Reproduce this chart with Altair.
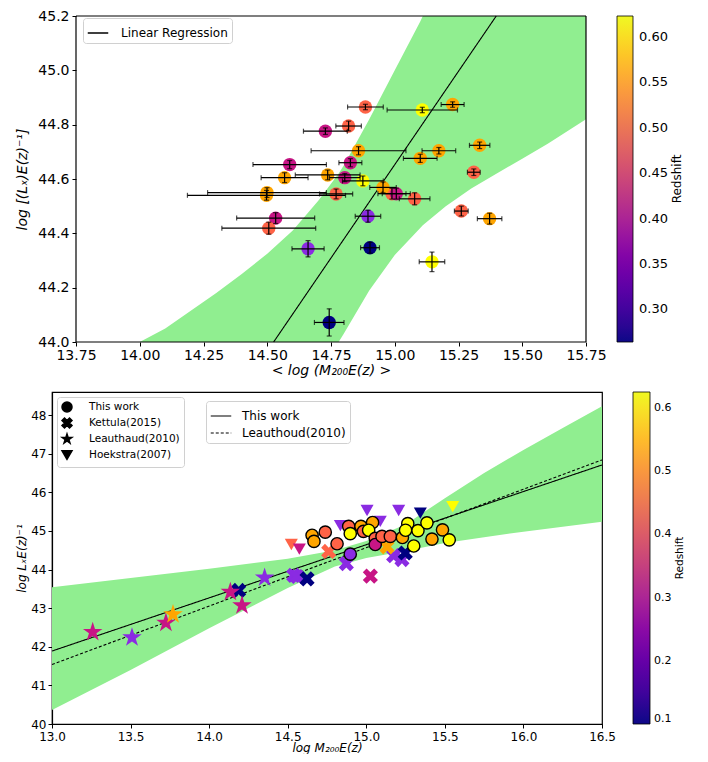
import altair as alt
import pandas as pd

# ================= TOP PANEL DATA =================
top_logm = [14.885, 14.728, 14.819, 14.858, 14.588, 14.826, 14.568, 14.737, 14.804, 14.875,
            14.499, 14.497, 14.770, 14.533, 14.506, 14.660, 14.743, 14.895, 14.903, 15.146,
            15.261, 15.372, 15.078, 14.989, 15.006, 14.954, 15.108, 15.227, 15.333, 15.310,
            15.173, 15.100]
top_loglx = [44.865, 44.776, 44.795, 44.704, 44.653, 44.660, 44.605, 44.615, 44.605, 44.593,
             44.550, 44.540, 44.545, 44.456, 44.419, 44.343, 44.072, 44.463, 44.347, 44.295,
             44.482, 44.454, 44.527, 44.546, 44.546, 44.569, 44.854, 44.874, 44.724, 44.625,
             44.704, 44.676]
top_xerr = [0.070, 0.086, 0.050, 0.186, 0.144, 0.045, 0.092, 0.127, 0.060, 0.080,
            0.233, 0.310, 0.065, 0.153, 0.184, 0.063, 0.058, 0.050, 0.037, 0.050,
            0.027, 0.048, 0.060, 0.055, 0.055, 0.052, 0.138, 0.045, 0.040, 0.025,
            0.066, 0.066]
top_yerr = [0.010, 0.012, 0.018, 0.015, 0.015, 0.015, 0.018, 0.018, 0.015, 0.018,
            0.018, 0.018, 0.018, 0.020, 0.022, 0.030, 0.050, 0.022, 0.020, 0.036,
            0.018, 0.020, 0.022, 0.020, 0.020, 0.020, 0.010, 0.010, 0.012, 0.012,
            0.012, 0.015]
top_z = [0.48, 0.40, 0.48, 0.55, 0.40, 0.40, 0.55, 0.55, 0.40, 0.61,
         0.55, 0.55, 0.48, 0.40, 0.48, 0.34, 0.27, 0.34, 0.27, 0.61,
         0.48, 0.55, 0.48, 0.48, 0.40, 0.55, 0.61, 0.55, 0.55, 0.48,
         0.55, 0.55]

top_band_x = [14.0, 14.1, 14.2, 14.3, 14.4, 14.5, 14.6, 14.7, 14.78, 14.8, 14.9, 15.0, 15.1,
              15.11, 15.2, 15.3, 15.4, 15.5, 15.6, 15.75]
top_band_hi = [44.0, 44.05, 44.115, 44.18, 44.25, 44.325, 44.41, 44.52, 44.62, 44.65, 44.82,
               45.0, 45.18, 45.2, 45.2, 45.2, 45.2, 45.2, 45.2, 45.2]
top_band_lo = [44.0, 44.0, 44.0, 44.0, 44.0, 44.0, 44.0, 44.0, 44.0, 44.03, 44.19, 44.32,
               44.42, 44.43, 44.50, 44.565, 44.62, 44.675, 44.73, 44.82]

top_reg_x = [14.525, 15.398]
top_reg_y = [44.0, 45.2]

# ================= BOTTOM PANEL DATA =================
tw_x = [14.655, 14.667, 14.739, 14.814, 14.888, 14.898, 14.898, 14.966, 14.982, 15.040,
        15.015, 15.057, 15.057, 15.100, 15.153, 15.230, 15.264, 15.250, 15.302, 15.329,
        15.386, 15.418, 15.485, 15.528]
tw_y = [44.89, 44.73, 44.97, 44.67, 45.12, 44.93, 44.40, 45.12, 44.99, 45.22,
        45.02, 44.81, 44.65, 44.86, 44.86, 44.83, 45.19, 45.02, 44.61, 45.01,
        45.21, 44.79, 45.03, 44.77]
tw_z = [0.55, 0.55, 0.48, 0.48, 0.48, 0.61, 0.34, 0.55, 0.48, 0.55,
        0.61, 0.48, 0.40, 0.48, 0.48, 0.55, 0.61, 0.61, 0.61, 0.61,
        0.61, 0.55, 0.55, 0.61]

ke_x = [14.188, 14.538, 14.560, 14.623, 14.873, 15.026, 15.174, 15.227, 15.248, 15.132, 14.761]
ke_y = [43.46, 43.85, 43.82, 43.76, 44.155, 43.83, 44.36, 44.26, 44.43, 44.59, 44.47]
ke_z = [0.27, 0.34, 0.34, 0.27, 0.34, 0.40, 0.34, 0.34, 0.27, 0.55, 0.48]

le_x = [13.259, 13.509, 13.725, 13.770, 14.135, 14.209, 14.353]
le_y = [42.38, 42.24, 42.62, 42.84, 43.42, 43.07, 43.79]
le_z = [0.40, 0.34, 0.40, 0.55, 0.40, 0.40, 0.34]

ho_x = [14.523, 14.574, 14.835, 15.005, 15.089, 15.206, 15.344, 15.550]
ho_y = [44.65, 44.53, 45.14, 45.53, 45.25, 45.53, 45.46, 45.63]
ho_z = [0.48, 0.40, 0.34, 0.34, 0.34, 0.34, 0.27, 0.61]

bot_band_x = [13.0, 13.5, 14.0, 14.5, 14.8, 15.0, 15.25, 15.5, 15.75, 16.0, 16.25, 16.5]
bot_band_hi = [43.54, 43.78, 44.02, 44.28, 44.50, 44.74, 45.17, 45.85, 46.50, 47.10, 47.67, 48.23]
bot_band_lo = [40.36, 41.40, 42.48, 43.52, 44.08, 44.30, 44.48, 44.69, 44.84, 44.98, 45.11, 45.24]

line_names = ["This work", "Leauthoud(2010)"]
line_x = [[13.0, 16.5], [13.0, 16.5]]
line_y = [[41.89, 46.71], [41.54, 46.84]]

surveys = ["This work", "Kettula(2015)", "Leauthaud(2010)", "Hoekstra(2007)"]

# ================= STYLE =================
FONT = "DejaVu Sans"
z_thresholds = [0.30, 0.37, 0.435, 0.505, 0.575]
z_colors = ["navy", "blueviolet", "mediumvioletred", "tomato", "orange", "yellow"]
thr = alt.Scale(type="threshold", domain=z_thresholds, range=z_colors)
XPATH = "M-1,-0.5L-0.5,-1L0,-0.5L0.5,-1L1,-0.5L0.5,0L1,0.5L0.5,1L0,0.5L-0.5,1L-1,0.5L-0.5,0Z"
STARPATH = ("M0,-1L0.2245,-0.309L0.951,-0.309L0.363,0.118L0.588,0.809L0,0.382"
            "L-0.588,0.809L-0.363,0.118L-0.951,-0.309L-0.2245,-0.309Z")
shape_range = ["circle", XPATH, STARPATH, "triangle-down"]

SHIFT = 24            # top plot sits this far right of the bottom plot
TW, TH = 510, 326
BW, BH = 550, 332
TX0, TX1, TY0, TY1 = 13.75, 15.75, 44.0, 45.2

# ================= TOP PANEL =================
top_df = pd.DataFrame({"x": top_logm, "y": top_loglx, "xe": top_xerr, "ye": top_yerr, "z": top_z})
top_df["xlo"] = top_df.x - top_df.xe
top_df["xhi"] = top_df.x + top_df.xe
top_df["ylo"] = top_df.y - top_df.ye
top_df["yhi"] = top_df.y + top_df.ye
tband_df = pd.DataFrame({"x": top_band_x, "lo": top_band_lo, "hi": top_band_hi})
treg_df = pd.DataFrame({"x": top_reg_x, "y": top_reg_y, "name": ["Linear Regression"] * 2})
tframe_df = pd.DataFrame({"x": [TX0, TX0, TX1, TX0], "x2": [TX1, TX1, TX1, TX0],
                          "y": [TY0, TY1, TY0, TY0], "y2": [TY0, TY1, TY1, TY1]})

txs = alt.Scale(domain=[TX0, TX1], range=[SHIFT, SHIFT + TW], nice=False, zero=False)
tys = alt.Scale(domain=[TY0, TY1], nice=False, zero=False)
tax_x = alt.Axis(values=[13.75, 14.0, 14.25, 14.5, 14.75, 15.0, 15.25, 15.5, 15.75], format=".2f",
                 title="< log (M₂₀₀E(z) >", titleFontStyle="italic", labelFontSize=14,
                 titleFontSize=14, tickSize=4, labelFlush=False, labelOverlap=False,
                 titlePadding=1, labelPadding=2, domain=False, titleX=SHIFT + TW / 2)
tax_y = alt.Axis(values=[44.0, 44.2, 44.4, 44.6, 44.8, 45.0, 45.2], format=".1f",
                 title="log [(Lₓ)E(z)⁻¹]", titleFontStyle="italic", labelFontSize=14,
                 titleFontSize=14, tickSize=4, labelFlush=False, labelOverlap=False,
                 titlePadding=8, labelPadding=3, domain=False, offset=-SHIFT)


def TX(f):
    return alt.X(f, type="quantitative", scale=txs, axis=tax_x)


def TY(f):
    return alt.Y(f, type="quantitative", scale=tys, axis=tax_y)


t_band = alt.Chart(tband_df).mark_area(color="#90ee90", opacity=1).encode(
    x=TX("x"), y=TY("lo"), y2="hi")
t_line = alt.Chart(treg_df).mark_line(color="black", strokeWidth=1.1).encode(
    x=TX("x"), y=TY("y"),
    strokeDash=alt.StrokeDash("name:N", scale=alt.Scale(domain=["Linear Regression"], range=[[1, 0]]),
                              legend=alt.Legend(title=None, orient="none", legendX=SHIFT + 7, legendY=2,
                                                labelFontSize=12, symbolSize=420, symbolStrokeWidth=1.3,
                                                fillColor="white", strokeColor="#d0d0d0", padding=4,
                                                cornerRadius=3, labelOffset=12)))
t_pts = alt.Chart(top_df).mark_circle(size=180, opacity=1).encode(
    x=TX("x"), y=TY("y"), fill=alt.Fill("z:Q", scale=thr, legend=None))
t_ebx = alt.Chart(top_df).mark_rule(color="black", strokeWidth=1.2).encode(
    x=TX("xlo"), x2="xhi", y=TY("y"))
t_eby = alt.Chart(top_df).mark_rule(color="black", strokeWidth=1.2).encode(
    x=TX("x"), y=TY("ylo"), y2="yhi")
t_cx1 = alt.Chart(top_df).mark_tick(orient="vertical", size=5, thickness=1.2, color="black").encode(
    x=TX("xlo"), y=TY("y"))
t_cx2 = alt.Chart(top_df).mark_tick(orient="vertical", size=5, thickness=1.2, color="black").encode(
    x=TX("xhi"), y=TY("y"))
t_cy1 = alt.Chart(top_df).mark_tick(orient="horizontal", size=5, thickness=1.2, color="black").encode(
    x=TX("x"), y=TY("ylo"))
t_cy2 = alt.Chart(top_df).mark_tick(orient="horizontal", size=5, thickness=1.2, color="black").encode(
    x=TX("x"), y=TY("yhi"))
t_frame = alt.Chart(tframe_df).mark_rule(color="black", strokeWidth=1.2).encode(
    x=TX("x"), x2="x2", y=TY("y"), y2="y2")
t_grad = alt.Chart(top_df).mark_point(opacity=0).encode(
    x=TX("x"), y=TY("y"),
    color=alt.Color("z:Q", scale=alt.Scale(scheme="plasma", domain=[0.264, 0.623]),
                    legend=alt.Legend(type="gradient", title=None, orient="none",
                                      legendX=SHIFT + TW + 31, legendY=0,
                                      gradientLength=TH, gradientThickness=16,
                                      gradientStrokeColor="black", gradientStrokeWidth=0.8,
                                      values=[0.30, 0.35, 0.40, 0.45, 0.50, 0.55, 0.60], format=".2f",
                                      labelFontSize=13, labelOffset=6, labelOverlap=False)))
t_ztitle = alt.Chart(pd.DataFrame({"t": ["Redshift"]})).mark_text(
    angle=270, fontSize=12, font=FONT, color="black").encode(
    text="t:N", x=alt.value(SHIFT + TW + 91), y=alt.value(TH / 2))

top = alt.layer(t_band, t_line, t_pts, t_ebx, t_eby, t_cx1, t_cx2, t_cy1, t_cy2, t_frame, t_grad,
                t_ztitle).resolve_scale(color="independent", fill="independent").properties(
    width=SHIFT + TW, height=TH, view=alt.ViewBackground(stroke="transparent"))

# ================= BOTTOM PANEL =================
tw_df = pd.DataFrame({"x": tw_x, "y": tw_y, "z": tw_z, "survey": surveys[0]})
ke_df = pd.DataFrame({"x": ke_x, "y": ke_y, "z": ke_z, "survey": surveys[1]})
le_df = pd.DataFrame({"x": le_x, "y": le_y, "z": le_z, "survey": surveys[2]})
ho_df = pd.DataFrame({"x": ho_x, "y": ho_y, "z": ho_z, "survey": surveys[3]})
bband_df = pd.DataFrame({"x": bot_band_x, "lo": bot_band_lo, "hi": bot_band_hi})
bline_df = pd.DataFrame({
    "x": line_x[0] + line_x[1],
    "y": line_y[0] + line_y[1],
    "name": [line_names[0]] * 2 + [line_names[1]] * 2,
})

bxs = alt.Scale(domain=[13.0, 16.5], nice=False, zero=False)
bys = alt.Scale(domain=[40.0, 48.6], nice=False, zero=False)
bax_x = alt.Axis(values=[13.0, 13.5, 14.0, 14.5, 15.0, 15.5, 16.0, 16.5], format=".1f",
                 title="log M₂₀₀E(z)", titleFontStyle="italic", labelFontSize=12,
                 titleFontSize=12, tickSize=4, labelFlush=False, labelOverlap=False,
                 titlePadding=0, labelPadding=3)
bax_y = alt.Axis(values=[40, 41, 42, 43, 44, 45, 46, 47, 48], format="d",
                 title="log LₓE(z)⁻¹", titleFontStyle="italic", labelFontSize=12,
                 titleFontSize=12, tickSize=4, labelFlush=False, labelOverlap=False,
                 titlePadding=2, labelPadding=2)


def BX(f):
    return alt.X(f, type="quantitative", scale=bxs, axis=bax_x)


def BY(f):
    return alt.Y(f, type="quantitative", scale=bys, axis=bax_y)


shape_legend = alt.Legend(title=None, orient="top-left", offset=5, labelFontSize=10.5,
                          symbolFillColor="black", symbolStrokeColor="black",
                          symbolSize=100, fillColor="white", strokeColor="#d0d0d0",
                          padding=4, cornerRadius=3, rowPadding=0, labelOffset=16)
shape_enc = alt.Shape("survey:N", scale=alt.Scale(domain=surveys, range=shape_range),
                      legend=shape_legend)

b_band = alt.Chart(bband_df).mark_area(color="#90ee90", opacity=1).encode(
    x=BX("x"), y=BY("lo"), y2="hi")
b_lines = alt.Chart(bline_df).mark_line(color="black", strokeWidth=1.1).encode(
    x=BX("x"), y=BY("y"),
    strokeDash=alt.StrokeDash("name:N", scale=alt.Scale(domain=line_names, range=[[1, 0], [3, 2]]),
                              legend=alt.Legend(title=None, orient="none", legendX=154, legendY=9,
                                                labelFontSize=12, symbolSize=420, symbolStrokeWidth=1.1,
                                                fillColor="white", strokeColor="#d0d0d0", padding=4,
                                                cornerRadius=3, labelOffset=10, rowPadding=0)))


def survey_layer(df, size, **mk):
    return alt.Chart(df).mark_point(filled=True, opacity=1, size=size, **mk).encode(
        x=BX("x"), y=BY("y"), shape=shape_enc,
        fill=alt.Fill("z:Q", scale=thr, legend=None))


b_ke = survey_layer(ke_df, 230)
b_le = survey_layer(le_df, 420)
b_ho = survey_layer(ho_df, 170)
b_tw = survey_layer(tw_df, 150, stroke="black", strokeWidth=1.4)
b_grad = alt.Chart(tw_df).mark_point(opacity=0).encode(
    x=BX("x"), y=BY("y"),
    color=alt.Color("z:Q", scale=alt.Scale(scheme="plasma", domain=[0.1, 0.625]),
                    legend=alt.Legend(type="gradient", title=None, orient="none",
                                      legendX=BW + 31, legendY=0,
                                      gradientLength=BH, gradientThickness=17,
                                      gradientStrokeColor="black", gradientStrokeWidth=0.8,
                                      values=[0.1, 0.2, 0.3, 0.4, 0.5, 0.6], format=".1f",
                                      labelFontSize=11, labelOffset=4, labelOverlap=False)))
b_ztitle = alt.Chart(pd.DataFrame({"t": ["Redshift"]})).mark_text(
    angle=270, fontSize=10.5, font=FONT, color="black").encode(
    text="t:N", x=alt.value(BW + 78), y=alt.value(BH / 2))

bottom = alt.layer(b_band, b_lines, b_ke, b_le, b_ho, b_tw, b_grad, b_ztitle).resolve_scale(
    color="independent", fill="independent").properties(width=BW, height=BH)

chart = alt.vconcat(top, bottom, spacing=13).resolve_scale(
    color="independent", fill="independent", shape="independent",
    strokeDash="independent", x="independent", y="independent"
).properties(
    padding={"left": 7, "top": 0, "right": 2, "bottom": 0}
).configure_view(stroke="black", strokeWidth=1.2).configure_axis(
    grid=False, domainColor="black", tickColor="black", labelColor="black", titleColor="black",
    labelFont=FONT, titleFont=FONT, titleFontWeight="normal", domainWidth=1.2
).configure_legend(labelFont=FONT, titleFont=FONT, titleFontWeight="normal",
                   labelColor="black", titleColor="black")

chart.save("out.html", embed_options={"renderer": "svg", "actions": False})
